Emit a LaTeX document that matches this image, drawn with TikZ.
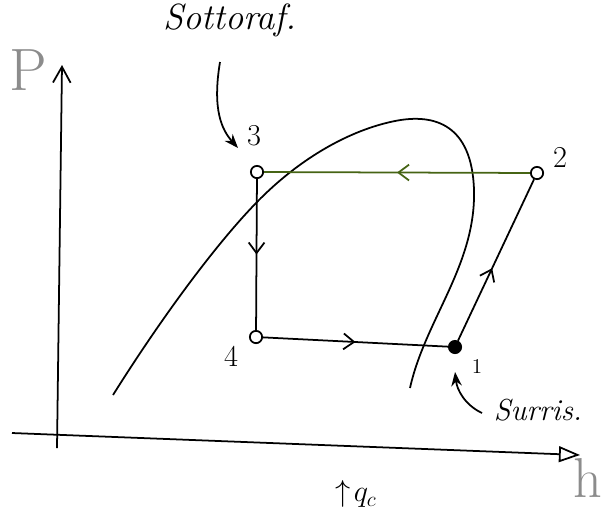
\documentclass[tikz,border=0pt]{standalone}
\usepackage{amsmath,amssymb}
\usetikzlibrary{arrows.meta,decorations.markings}

\definecolor{axisgray}{gray}{0.55}
\definecolor{condgreen}{RGB}{70,100,20}

\tikzset{
  statept/.style={circle,draw,line width=1pt,inner sep=0pt,minimum size=7pt,fill=white},
  flowmark/.style={postaction={decorate,decoration={markings,
      mark=at position #1 with {\arrow{Straight Barb[length=6pt,width=9pt,line width=1pt]}}}}},
  cycleline/.style={line width=1pt},
  notearrow/.style={line width=1pt,-{Stealth[length=8pt,width=6pt]}}
}

\begin{document}
\begin{tikzpicture}[x=0.02cm,y=-0.02cm]
    \useasboundingbox (0,0) rectangle (607,508);
    % Axes
    \coordinate (pfoot) at (57,448);
    \coordinate (ptip) at (62,65);
    \coordinate (hfoot) at (12,433);
    \coordinate (htip) at (580,455);
    \draw[line width=1pt,-{Straight Barb[length=9pt,width=10pt,line width=1pt]}] (pfoot) -- (ptip);
    \draw[line width=1pt,-{Triangle[open,length=12pt,width=9pt,line width=1pt]}] (hfoot) -- (htip);
    \node[text=axisgray,font=\fontsize{34}{40}\selectfont] (plabel) at (28,70) {P};
    \node[text=axisgray,font=\fontsize{32}{38}\selectfont] (hlabel) at (588,478) {h};
    % Saturation dome
    \draw[line width=1pt] (113,395) .. controls (160,320) and (215,245) .. (257,202)
      .. controls (300,158) and (350,130) .. (395,121)
      .. controls (435,113) and (472,125) .. (474,190)
      .. controls (476,265) and (425,320) .. (410,388);
    % Cycle states
    \node[statept] (p3) at (257,172) {};
    \node[statept] (p2) at (537,173) {};
    \node[statept] (p4) at (256,337) {};
    \node[statept,fill=black] (p1) at (455,347) {};
    \node[font=\LARGE] (l3) at (254,136) {3};
    \node[font=\LARGE] (l2) at (560,157) {2};
    \node[font=\LARGE] (l4) at (231,356) {4};
    \node[font=\large] (l1) at (477,366) {1};
    % Cycle lines
    \draw[cycleline,condgreen,flowmark=0.5] (p2) -- (p3);
    \draw[cycleline,flowmark=0.5] (p3) -- (p4);
    \draw[cycleline,flowmark=0.5] (p4) -- (p1);
    \draw[cycleline,flowmark=0.45] (p1) -- (p2);
    % Notes
    \node[font=\huge\itshape] (subcool) at (230,20) {Sottoraf.};
    \coordinate (subfoot) at (220,62);
    \draw[notearrow] (subfoot) .. controls (212,110) and (222,130) .. (238,148);
    \node[font=\LARGE\itshape] (superheat) at (538,410) {Surris.};
    \coordinate (supfoot) at (482,413);
    \draw[notearrow] (supfoot) .. controls (465,405) and (457,390) .. (455,372);
    \node[font=\LARGE,inner sep=1pt] (qc) at (356,494) {$\uparrow\! q_{c}$};
\end{tikzpicture}
\end{document}
